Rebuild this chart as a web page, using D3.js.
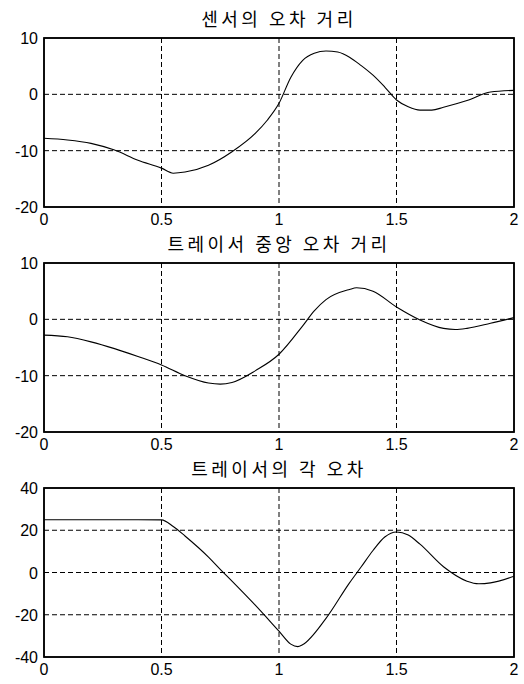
<!DOCTYPE html>
<html>
<head>
<meta charset="utf-8">
<script src="https://cdn.jsdelivr.net/npm/d3@7"></script>
<style>
  body { margin: 0; background: #fff; }
  .frame { fill: #fff; stroke: #000; stroke-width: 1.5; }
  .grid line { stroke: #000; stroke-width: 1; stroke-dasharray: 5,3; }
  .curve { fill: none; stroke: #000; stroke-width: 1.1; }
  .tick-label { font-family: "Liberation Sans", Arial, sans-serif; font-size: 16px; fill: #000; }
  .title { font-family: "Noto Sans CJK KR", sans-serif; font-size: 18px; letter-spacing: 3.5px; fill: #000; }
</style>
</head>
<body>
<script>
// time axis (s)
var tSensor = [0, 0.1, 0.2, 0.3, 0.4, 0.5, 0.55, 0.6, 0.7, 0.8, 0.9, 0.95, 1.0, 1.05, 1.1, 1.15, 1.2, 1.25, 1.3, 1.35, 1.4, 1.45, 1.5, 1.55, 1.6, 1.65, 1.7, 1.8, 1.9, 2.0];
var sensorErr = [-7.8, -8.1, -8.7, -9.9, -11.7, -13.1, -14.0, -13.8, -12.6, -10.2, -6.9, -4.6, -1.6, 3.0, 6.0, 7.3, 7.7, 7.5, 6.6, 5.1, 3.4, 1.3, -1.0, -2.2, -2.8, -2.8, -2.3, -1.1, 0.4, 0.7];

var tCenter = [0, 0.1, 0.2, 0.3, 0.4, 0.5, 0.6, 0.7, 0.75, 0.8, 0.9, 1.0, 1.1, 1.15, 1.2, 1.3, 1.33, 1.4, 1.5, 1.6, 1.7, 1.75, 1.8, 1.9, 2.0];
var centerErr = [-2.8, -3.1, -4.0, -5.2, -6.6, -8.1, -10.0, -11.3, -11.5, -11.2, -9.1, -6.2, -1.2, 1.5, 3.5, 5.3, 5.6, 5.0, 2.2, -0.1, -1.6, -1.8, -1.6, -0.7, 0.3];

var tAngle = [0, 0.1, 0.2, 0.3, 0.4, 0.5, 0.55, 0.6, 0.7, 0.75, 0.8, 0.9, 1.0, 1.05, 1.08, 1.1, 1.2, 1.3, 1.35, 1.4, 1.45, 1.5, 1.55, 1.6, 1.7, 1.8, 1.85, 1.9, 2.0];
var angleErr = [25, 25, 25, 25, 25, 24.9, 21.8, 17.3, 7.3, 1.5, -4.1, -15.6, -27.8, -33.9, -35.1, -34.2, -21.7, -4.9, 2.7, 10.4, 16.8, 19.2, 17.7, 13.4, 2.7, -4.1, -5.3, -4.9, -1.8];

var xTicks = [0, 0.5, 1, 1.5, 2];
var xTickLabels = ['0', '0.5', '1', '1.5', '2'];
var titles = ['센서의 오차 거리', '트레이서 중앙 오차 거리', '트레이서의 각 오차'];
var yDomains = [[-20, 10], [-20, 10], [-40, 40]];
var yTickSets = [[-20, -10, 0, 10], [-20, -10, 0, 10], [-40, -20, 0, 20, 40]];

var panels = [
  { t: tSensor, v: sensorErr, top: 38 },
  { t: tCenter, v: centerErr, top: 263 },
  { t: tAngle, v: angleErr, top: 488 }
];

var svg = d3.select('body').append('svg')
  .attr('width', 524)
  .attr('height', 684);

var left = 44, right = 514, plotHeight = 169;

panels.forEach(function (p, i) {
  var x = d3.scaleLinear().domain([0, 2]).range([left, right]);
  var y = d3.scaleLinear().domain(yDomains[i]).range([p.top + plotHeight, p.top]);
  var g = svg.append('g');

  g.append('rect')
    .attr('class', 'frame')
    .attr('x', left).attr('y', p.top)
    .attr('width', right - left).attr('height', plotHeight);

  var grid = g.append('g').attr('class', 'grid');
  grid.selectAll('line.v')
    .data(xTicks.slice(1, -1))
    .enter().append('line')
    .attr('x1', function (d) { return x(d); })
    .attr('x2', function (d) { return x(d); })
    .attr('y1', p.top).attr('y2', p.top + plotHeight);
  grid.selectAll('line.h')
    .data(yTickSets[i].slice(1, -1))
    .enter().append('line')
    .attr('y1', function (d) { return y(d); })
    .attr('y2', function (d) { return y(d); })
    .attr('x1', left).attr('x2', right);

  var line = d3.line()
    .x(function (d, k) { return x(p.t[k]); })
    .y(function (d) { return y(d); })
    .curve(d3.curveMonotoneX);

  g.append('path')
    .datum(p.v)
    .attr('class', 'curve')
    .attr('d', line);

  // frame drawn again on top so the border stays solid
  g.append('rect')
    .attr('x', left).attr('y', p.top)
    .attr('width', right - left).attr('height', plotHeight)
    .attr('fill', 'none').attr('stroke', '#000').attr('stroke-width', 1.5);

  g.selectAll('text.ytick')
    .data(yTickSets[i])
    .enter().append('text')
    .attr('class', 'tick-label')
    .attr('x', left - 6)
    .attr('y', function (d) { return y(d) + 6; })
    .attr('text-anchor', 'end')
    .text(function (d) { return d; });

  g.selectAll('text.xtick')
    .data(xTicks)
    .enter().append('text')
    .attr('class', 'tick-label')
    .attr('x', function (d) { return x(d); })
    .attr('y', p.top + plotHeight + 18)
    .attr('text-anchor', 'middle')
    .text(function (d, k) { return xTickLabels[k]; });

  g.append('text')
    .attr('class', 'title')
    .attr('x', x(1))
    .attr('y', p.top - 12)
    .attr('text-anchor', 'middle')
    .text(titles[i]);
});
</script>
</body>
</html>
